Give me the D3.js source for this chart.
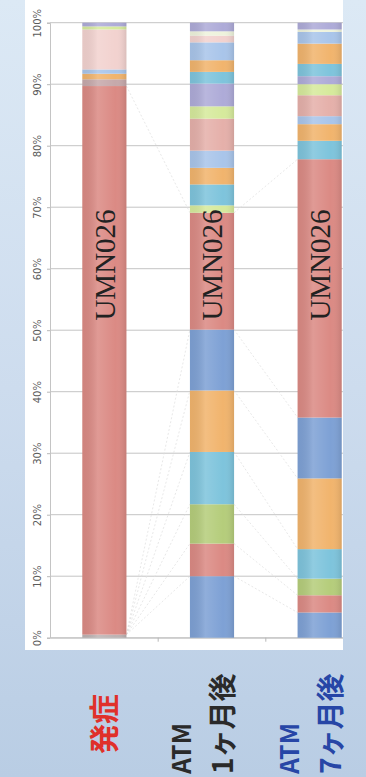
<!DOCTYPE html>
<html><head><meta charset="utf-8">
<script src="https://cdn.jsdelivr.net/npm/d3@7"></script>
<style>
html,body{margin:0;padding:0;}
body{width:366px;height:777px;overflow:hidden;background:linear-gradient(180deg,#dce9f5 0%,#cddcee 50%,#b9cde4 100%);}
svg{display:block;}
</style></head><body>
<svg id="c" width="366" height="777"></svg>
<script>
// ---------- data ----------
const categories = ["発症", "ATM 1ヶ月後", "ATM 7ヶ月後"];
const labelLines = [["発症"], ["ATM", "1ヶ月後"], ["ATM", "7ヶ月後"]];
const tickValues = [0, 10, 20, 30, 40, 50, 60, 70, 80, 90, 100];
const cloneLabel = "UMN026";
const umnIndex = [1, 6, 6];

// segment sizes (%) per bar, bottom to top
const onsetValues  = [0.5, 89.2, 1.1, 0.9, 0.7, 6.5, 0.5, 0.6];
const month1Values = [10.0, 5.3, 6.4, 8.5, 10.0, 9.9, 19.0, 1.2, 3.4, 2.7, 2.8, 5.2, 2.0, 3.7, 1.9, 1.9, 2.9, 1.1, 0.7, 1.4];
const month7Values = [4.1, 2.8, 2.7, 4.8, 11.5, 9.9, 42.0, 3.0, 2.7, 1.3, 3.4, 1.8, 1.3, 2.0, 3.3, 1.9, 0.4, 1.1];

// colour keys per segment
const onsetColors  = ["gray","red","mauve","orange","lightblue","lightpink","lightgreen","lavender"];
const month1Colors = ["blue","red","green","cyan","orange","blue","red","lightgreen","cyan","orange","lightblue","pink","lightgreen","lavender","cyan","orange","lightblue","lightpink","cream","lavender"];
const month7Colors = ["blue","red","green","cyan","orange","blue","red","cyan","orange","lightblue","pink","lightgreen","lavender","cyan","orange","lightblue","cream","lavender"];

const palette = {
  blue:"#7ea1d5", red:"#db8a84", green:"#b5cd7b", cyan:"#7ec4dc", orange:"#f1b46d",
  lavender:"#aeabd8", lightblue:"#a9c5ea", pink:"#e5b0aa", lightpink:"#f2d2cf",
  lightgreen:"#d6ea9c", cream:"#eef3dc", gray:"#bdb3b3", mauve:"#c6a9ab"
};

const allValues = [onsetValues, month1Values, month7Values];
const allColors = [onsetColors, month1Colors, month7Colors];

// ---------- layout ----------
const svg = d3.select("#c");
const plotLeft = 50, plotRight = 343, panelLeft = 25, panelBottom = 650;

const x = d3.scaleBand().domain(categories).range([50, 374]).paddingInner(0.59).paddingOuter(0.3);
const y = d3.scaleLinear().domain([0, 100]).range([637.7, 22.7]);

const defs = svg.append("defs");
const g1 = defs.append("linearGradient").attr("id","shade").attr("x1","0").attr("x2","1").attr("y1","0").attr("y2","0");
g1.append("stop").attr("offset","0%").attr("stop-color","#000").attr("stop-opacity",0.05);
g1.append("stop").attr("offset","35%").attr("stop-color","#fff").attr("stop-opacity",0.14);
g1.append("stop").attr("offset","75%").attr("stop-color","#fff").attr("stop-opacity",0.0);
g1.append("stop").attr("offset","100%").attr("stop-color","#000").attr("stop-opacity",0.10);
defs.append("clipPath").attr("id","clip").append("rect").attr("x",panelLeft).attr("y",0).attr("width",plotRight-panelLeft).attr("height",panelBottom);

// white panel
svg.append("rect").attr("x",panelLeft).attr("y",0).attr("width",plotRight-panelLeft).attr("height",panelBottom).attr("fill","#fff");

const chart = svg.append("g").attr("clip-path","url(#clip)");

// gridlines
chart.append("g").selectAll("line").data(tickValues).join("line")
  .attr("x1",plotLeft).attr("x2",plotRight)
  .attr("y1",d=>y(d)).attr("y2",d=>y(d))
  .attr("stroke","#c4c4c4").attr("stroke-width",1);

// y axis
const yAxis = chart.append("g").attr("transform",`translate(${plotLeft},0)`)
  .call(d3.axisLeft(y).tickValues(tickValues).tickSize(3).tickFormat(d=>d+"%"));
yAxis.select(".domain").attr("stroke","#c4c4c4");
yAxis.selectAll(".tick line").attr("stroke","#b8b8b8");
yAxis.selectAll(".tick text")
  .attr("x",0).attr("dy","0.35em").attr("text-anchor","middle")
  .attr("transform","translate(-13,0) rotate(-90)")
  .attr("fill","#5a5a5a").attr("font-size","10px").attr("font-family","DejaVu Sans, sans-serif");

// x axis line + band ticks
const xAxis = chart.append("g").attr("transform",`translate(0,${y(0)})`)
  .call(d3.axisBottom(x).tickSize(0).tickFormat(""));
xAxis.select(".domain").attr("stroke","#c4c4c4");
const bounds = categories.slice(1).map(c => x(c) - x.step()*x.paddingInner()/2);
chart.append("g").selectAll("line").data(bounds).join("line")
  .attr("x1",d=>d).attr("x2",d=>d).attr("y1",y(0)).attr("y2",y(0)+4)
  .attr("stroke","#b8b8b8");

// stacks
const stacks = allValues.map(vals => {
  let acc = 0;
  return vals.map(v => { const s = {y0: acc, y1: acc + v}; acc += v; return s; });
});

// series lines (faint)
const links = [];
for (let i = 0; i < 6; i++) links.push([stacks[0][0].y1, stacks[1][i].y1]);
links.push([stacks[0][umnIndex[0]].y1, stacks[1][umnIndex[1]].y1]);
const links2 = [];
for (let i = 0; i <= 6; i++) links2.push([stacks[1][i].y1, stacks[2][i].y1]);
const bw = x.bandwidth();
chart.append("g").selectAll("line").data(links).join("line")
  .attr("x1",x(categories[0])+bw).attr("x2",x(categories[1]))
  .attr("y1",d=>y(d[0])).attr("y2",d=>y(d[1]))
  .attr("stroke","#dedede").attr("stroke-width",0.7).attr("stroke-dasharray","2,2");
chart.append("g").selectAll("line").data(links2).join("line")
  .attr("x1",x(categories[1])+bw).attr("x2",x(categories[2]))
  .attr("y1",d=>y(d[0])).attr("y2",d=>y(d[1]))
  .attr("stroke","#dedede").attr("stroke-width",0.7).attr("stroke-dasharray","2,2");

// bars
categories.forEach((cat, ci) => {
  const g = chart.append("g");
  g.selectAll("rect").data(stacks[ci]).join("rect")
    .attr("x",x(cat)).attr("width",bw)
    .attr("y",d=>y(d.y1)).attr("height",d=>Math.max(0,y(d.y0)-y(d.y1)))
    .attr("fill",(d,i)=>palette[allColors[ci][i]]);
  const total = stacks[ci][stacks[ci].length-1].y1;
  g.append("rect").attr("x",x(cat)).attr("width",bw)
    .attr("y",y(total)).attr("height",y(0)-y(total))
    .attr("fill","url(#shade)");
  g.append("text")
    .attr("transform",`translate(${x(cat)+bw/2},${y(60.6)}) rotate(-90)`)
    .attr("text-anchor","middle").attr("dy","0.35em")
    .attr("font-family","Liberation Serif, serif").attr("font-size","29px")
    .attr("fill","#222").text(cloneLabel);
});

// category labels (rotated)
const labelColors = ["#e0302a", "#2a2a2a", "#2746a6"];
svg.append("text")
  .attr("transform",`translate(${x(categories[0])+bw/2},724) rotate(-90)`)
  .attr("text-anchor","middle").attr("dy","0.36em")
  .attr("font-family","Noto Sans CJK JP, sans-serif").attr("font-weight","bold")
  .attr("font-size","30px").attr("fill",labelColors[0]).text(labelLines[0][0]);
[1,2].forEach(ci => {
  const cx = x(categories[ci]) + bw/2;
  labelLines[ci].forEach((ln, li) => {
    svg.append("text")
      .attr("transform",`translate(${cx - 30 + li*41},774) rotate(-90)`)
      .attr("text-anchor","start").attr("dy","0.36em")
      .attr("font-family","Noto Sans CJK JP, sans-serif").attr("font-weight","bold")
      .attr("font-size", li===0 ? "25px" : "28px")
      .attr("fill",labelColors[ci]).text(ln);
  });
});
</script>
</body></html>
